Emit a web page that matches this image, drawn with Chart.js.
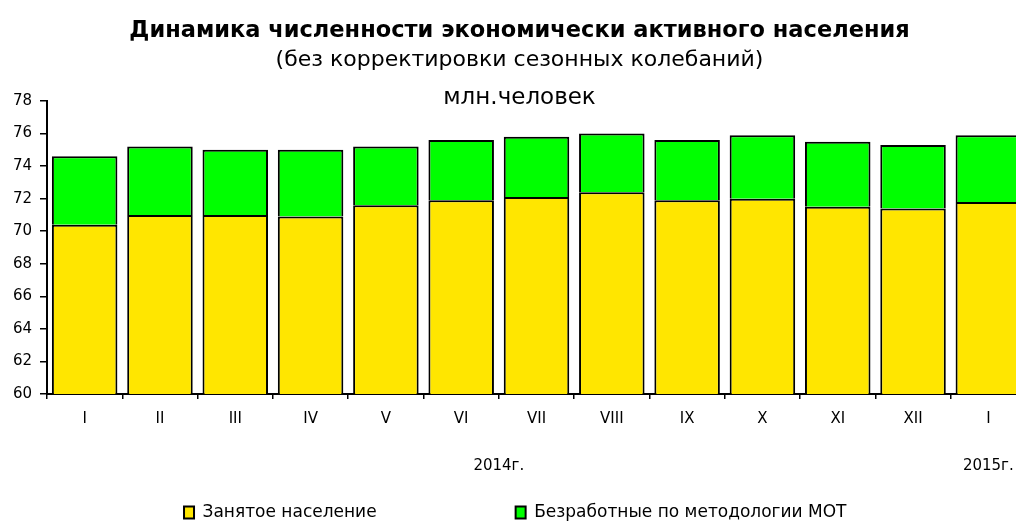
<!DOCTYPE html>
<html>
<head>
<meta charset="utf-8">
<script src="https://cdn.jsdelivr.net/npm/chart.js@4"></script>
<style>
  html, body { margin: 0; padding: 0; background: #fff; overflow: hidden; }
  #wrap { width: 1016px; height: 525px; overflow: hidden; }
</style>
</head>
<body>
<div id="wrap"><canvas id="chart" width="1028" height="531"></canvas></div>
<script>
// Ось X — месяцы (последний — январь 2015)
const months = ['I', 'II', 'III', 'IV', 'V', 'VI', 'VII', 'VIII', 'IX', 'X', 'XI', 'XII', 'I'];
// млн. человек
const employed = [70.4, 71.0, 71.0, 70.9, 71.6, 71.9, 72.1, 72.4, 71.9, 72.0, 71.5, 71.4, 71.8];
const unemployed = [4.2, 4.2, 4.0, 4.1, 3.6, 3.7, 3.7, 3.6, 3.7, 3.9, 4.0, 3.9, 4.1];
const seriesNames = ['Занятое население', 'Безработные по методологии МОТ'];
// подписи годов и какие месяцы они покрывают
const years = ['2014г.', '2015г.'];
const yearFirst = [0, 12];
const yearLast = [11, 12];
const yMin = 60;
const yMax = 78;
const yStep = 2;
const chartTitle = 'Динамика численности экономически активного населения';
const chartSubtitle = '(без корректировки сезонных колебаний)';
const unitLabel = 'млн.человек';

const FONT = '"DejaVu Sans", sans-serif';

// подпись единиц над графиком и годы под месяцами
const extraText = {
    id: 'extraText',
    afterDraw(chart) {
        const { ctx, chartArea, scales } = chart;
        const x = scales.x;
        const t = chart.titleBlock;
        ctx.save();
        ctx.fillStyle = '#000';
        ctx.textAlign = 'center';
        ctx.textBaseline = 'middle';
        ctx.font = '23px ' + FONT;
        ctx.fillText(unitLabel, t.left + t.width / 2, chartArea.top - 3);
        ctx.font = '15px ' + FONT;
        years.forEach((y, i) => {
            const cx = (x.getPixelForValue(yearFirst[i]) + x.getPixelForValue(yearLast[i])) / 2;
            ctx.fillText(y, cx, chartArea.bottom + 72);
        });
        ctx.restore();
    }
};

const ctx = document.getElementById('chart').getContext('2d');

new Chart(ctx, {
    type: 'bar',
    data: {
        labels: months,
        datasets: [{
            label: seriesNames[0],
            data: employed,
            backgroundColor: '#FFE600',
            borderColor: '#000',
            borderWidth: 2
        }, {
            label: seriesNames[1],
            data: unemployed,
            backgroundColor: '#00FF00',
            borderColor: '#000',
            borderWidth: 2
        }]
    },
    options: {
        responsive: false,
        animation: false,
        devicePixelRatio: 1,
        layout: { padding: { left: 13, right: 2, top: 0, bottom: 0 } },
        datasets: {
            bar: { categoryPercentage: 1, barPercentage: 0.87 }
        },
        plugins: {
            title: {
                display: true,
                text: chartTitle,
                color: '#000',
                font: { family: FONT, size: 22.5, weight: 'bold' },
                padding: { top: 17.5, bottom: 2.3 }
            },
            subtitle: {
                display: true,
                text: chartSubtitle,
                color: '#000',
                font: { family: FONT, size: 22, weight: 'normal' },
                padding: { top: 0, bottom: 27.8 }
            },
            legend: {
                position: 'bottom',
                labels: {
                    color: '#000',
                    font: { family: FONT, size: 17 },
                    boxWidth: 10,
                    boxHeight: 12,
                    padding: 3,
                    // широкий промежуток между элементами легенды
                    generateLabels(chart) {
                        const items = Chart.defaults.plugins.legend.labels.generateLabels(chart);
                        const tails = ['\u2003'.repeat(8), '\u2002'];
                        items.forEach((it, i) => { it.text += tails[i]; });
                        return items;
                    }
                }
            },
            tooltip: { enabled: false }
        },
        scales: {
            x: {
                stacked: true,
                border: { color: '#000', width: 2 },
                grid: { drawOnChartArea: false, tickLength: 5, color: '#000', lineWidth: 1.5 },
                ticks: {
                    color: '#000',
                    font: { family: FONT, size: 15 },
                    padding: 11,
                    autoSkip: false,
                    maxRotation: 0
                },
                title: { display: true, text: '', font: { family: FONT, size: 15 }, padding: { top: 22, bottom: 22 } }
            },
            y: {
                stacked: true,
                min: yMin,
                max: yMax,
                border: { color: '#000', width: 2 },
                grid: { drawOnChartArea: false, tickLength: 7, color: '#000', lineWidth: 1.5 },
                ticks: {
                    stepSize: yStep,
                    color: '#000',
                    font: { family: FONT, size: 15 },
                    padding: 8
                },
                afterFit(scale) { scale.width = 34; }
            }
        }
    },
    plugins: [extraText]
});
</script>
</body>
</html>
